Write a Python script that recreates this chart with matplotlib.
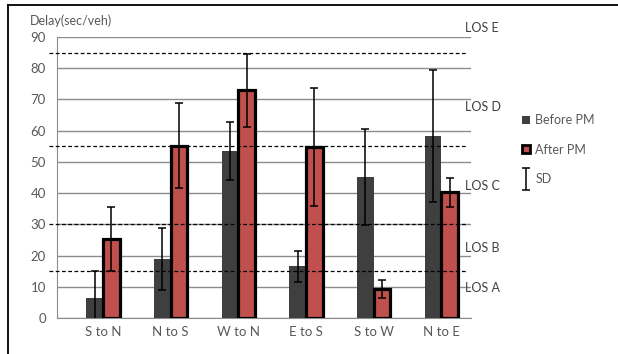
# Delay before / after PM for each movement, with LOS thresholds
import matplotlib
matplotlib.use("Agg")
import matplotlib.pyplot as plt
import numpy as np
from matplotlib.legend_handler import HandlerErrorbar
from matplotlib.patches import Patch
from matplotlib.lines import Line2D

plt.rcParams['font.family'] = ['Lato', 'DejaVu Sans']

categories = ['S to N', 'N to S', 'W to N', 'E to S', 'S to W', 'N to E']
before_pm = [6.3, 18.8, 53.4, 16.5, 45.2, 58.3]
before_sd = [8.8, 9.9, 9.3, 5.0, 15.3, 21.0]
after_pm = [25.3, 55.2, 73.0, 54.8, 9.3, 40.3]
after_sd = [10.4, 13.6, 11.7, 18.9, 3.0, 4.7]

los_limits = [15, 30, 55, 85]
los_names = ['LOS A', 'LOS B', 'LOS C', 'LOS D', 'LOS E']
los_label_y = [9.6, 22.4, 42.3, 67.5, 93.0]
yticks = list(range(0, 91, 10))

W, H = 618, 354
fig = plt.figure(figsize=(W / 100, H / 100), dpi=100)
ax = fig.add_axes([57 / W, (H - 318) / H, 414 / W, 281 / H])

x = np.arange(len(categories))
bw = 0.245
txt = '#595959'

ax.bar(x - bw / 2, before_pm, bw, color='#3f3f3f', zorder=3, label='Before PM')
ax.bar(x + bw / 2, after_pm, bw, color='#c0504d', edgecolor='black',
       linewidth=2.3, zorder=3, label='After PM')
ax.errorbar(x - bw / 2, before_pm, yerr=before_sd, fmt='none', ecolor='black',
            elinewidth=1.1, capsize=2.8, capthick=1.1, zorder=5)
sd = ax.errorbar(x + bw / 2, after_pm, yerr=after_sd, fmt='none', ecolor='black',
                 elinewidth=1.1, capsize=2.8, capthick=1.1, zorder=5)

for v in los_limits:
    ax.axhline(v, xmin=-0.02, xmax=0.99, color='black', lw=0.9,
               ls=(0, (3, 2)), zorder=4, clip_on=False)

trans = ax.get_yaxis_transform()
for name, y in zip(los_names, los_label_y):
    ax.text(0.986, y, name, transform=trans, fontsize=9, color='#404040',
            ha='left', va='center', clip_on=False)

ax.set_xlim(-0.68, 5.44)
ax.set_ylim(0, 90)
ax.set_yticks(yticks)
ax.set_xticks(x)
ax.set_xticklabels(categories)
ax.grid(axis='y', color='#8c8c8c', lw=1, zorder=0)
ax.tick_params(axis='both', length=0, labelsize=9.5, colors=txt)
ax.tick_params(axis='y', pad=8)
ax.tick_params(axis='x', pad=6)
for s in ['top', 'right']:
    ax.spines[s].set_visible(False)
for s in ['left', 'bottom']:
    ax.spines[s].set_color('#8c8c8c')

ax.text(-0.065, 1.035, 'Delay(sec/veh)', transform=ax.transAxes, fontsize=9,
        color=txt, ha='left', va='bottom')

handles = [Patch(facecolor='#3f3f3f'),
           Patch(facecolor='#c0504d', edgecolor='black', linewidth=2),
           sd]
leg = fig.legend(handles, ['Before PM', 'After PM', 'SD'],
                 loc='upper left', bbox_to_anchor=(511 / W, 1 - 103 / H),
                 frameon=False, fontsize=9, handlelength=0.6, handleheight=0.6,
                 handletextpad=0.45, labelspacing=1.4,
                 handler_map={sd: HandlerErrorbar(yerr_size=0.9)})
for t in leg.get_texts():
    t.set_color(txt)

# outer frame of the figure (top and left edge)
fig.add_artist(Line2D([8 / W, 1], [1 - 5 / H, 1 - 5 / H], color='black', lw=1.3))
fig.add_artist(Line2D([8 / W, 8 / W], [0, 1 - 5 / H], color='black', lw=1.3))

fig.savefig('out.png', dpi=100)
